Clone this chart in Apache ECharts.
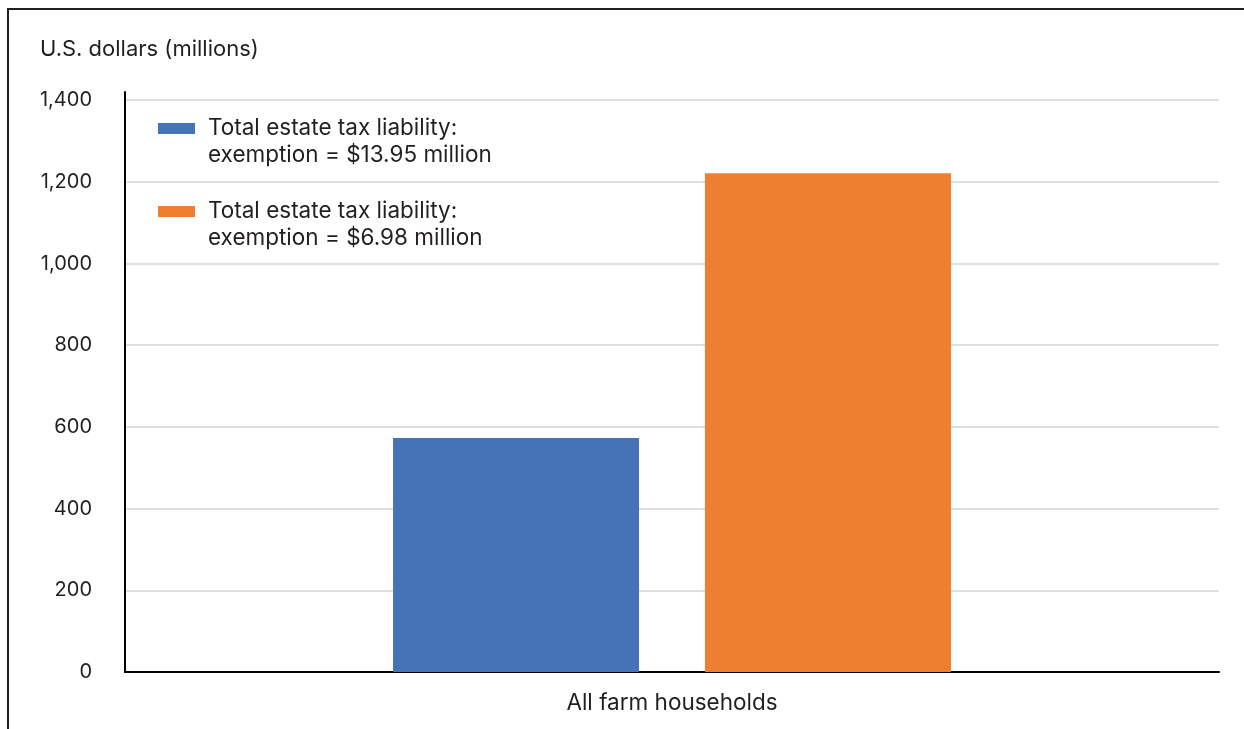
<!DOCTYPE html>
<html>
<head>
<meta charset="utf-8">
<script src="https://cdn.jsdelivr.net/npm/echarts@6/dist/echarts.min.js"></script>
<style>html,body{margin:0;padding:0;background:#fff}#c{width:1244px;height:729px}</style>
</head>
<body>
<div id="c"></div>
<script>
const categories = ['All farm households'];
const seriesNames = [
  'Total estate tax liability:\nexemption = $13.95 million',
  'Total estate tax liability:\nexemption = $6.98 million'
];
const values1395 = [573];
const values698 = [1221];
const yTicks = [0, 200, 400, 600, 800, 1000, 1200, 1400];
const yTitle = 'U.S. dollars (millions)';

const FONT = 'Inter, "Noto Sans", sans-serif';
const TXT = '#231f20';
const chart = echarts.init(document.getElementById('c'));
chart.setOption({
  animation: false,
  textStyle: { fontFamily: FONT },
  title: {
    text: yTitle, left: 40, top: 38, padding: 0,
    textStyle: { fontFamily: FONT, fontSize: 22, fontWeight: 'normal', color: TXT }
  },
  graphic: [{
    type: 'polyline',
    shape: { points: [[8, 729], [8, 9], [1244, 9]] },
    style: { stroke: '#231f20', lineWidth: 2, fill: null }
  }],
  grid: { left: 125, right: 25, top: 92, bottom: 57, containLabel: false },
  legend: {
    orient: 'vertical', left: 158, top: 88, padding: 0, itemGap: 2,
    itemWidth: 37, itemHeight: 11, icon: 'rect',
    formatter: n => ' \n' + n,
    textStyle: { fontFamily: FONT, fontSize: 22.5, color: TXT, lineHeight: 27, padding: [0, 0, 0, 8] },
    data: seriesNames
  },
  xAxis: {
    type: 'category', data: categories,
    axisLine: { lineStyle: { color: '#000', width: 2 } },
    axisTick: { show: false },
    axisLabel: { fontFamily: FONT, fontSize: 22.5, color: TXT, margin: 20 }
  },
  yAxis: {
    type: 'value', min: 0, max: 1420, interval: 200,
    axisLine: { show: true, lineStyle: { color: '#000', width: 2 } },
    axisTick: { show: false },
    splitLine: { show: true, showMaxLine: false, lineStyle: { color: '#d6d6d6', width: 1.5 } },
    axisLabel: {
      fontFamily: FONT, fontSize: 20, color: TXT, margin: 33, showMaxLabel: false,
      formatter: v => yTicks.includes(v) ? v.toLocaleString('en-US') : ''
    }
  },
  series: [
    { name: seriesNames[0], type: 'bar', data: values1395, barWidth: 246, barGap: '26.8%', itemStyle: { color: '#4672b8' } },
    { name: seriesNames[1], type: 'bar', data: values698, barWidth: 246, itemStyle: { color: '#ee7e30' } }
  ]
});
</script>
</body>
</html>
